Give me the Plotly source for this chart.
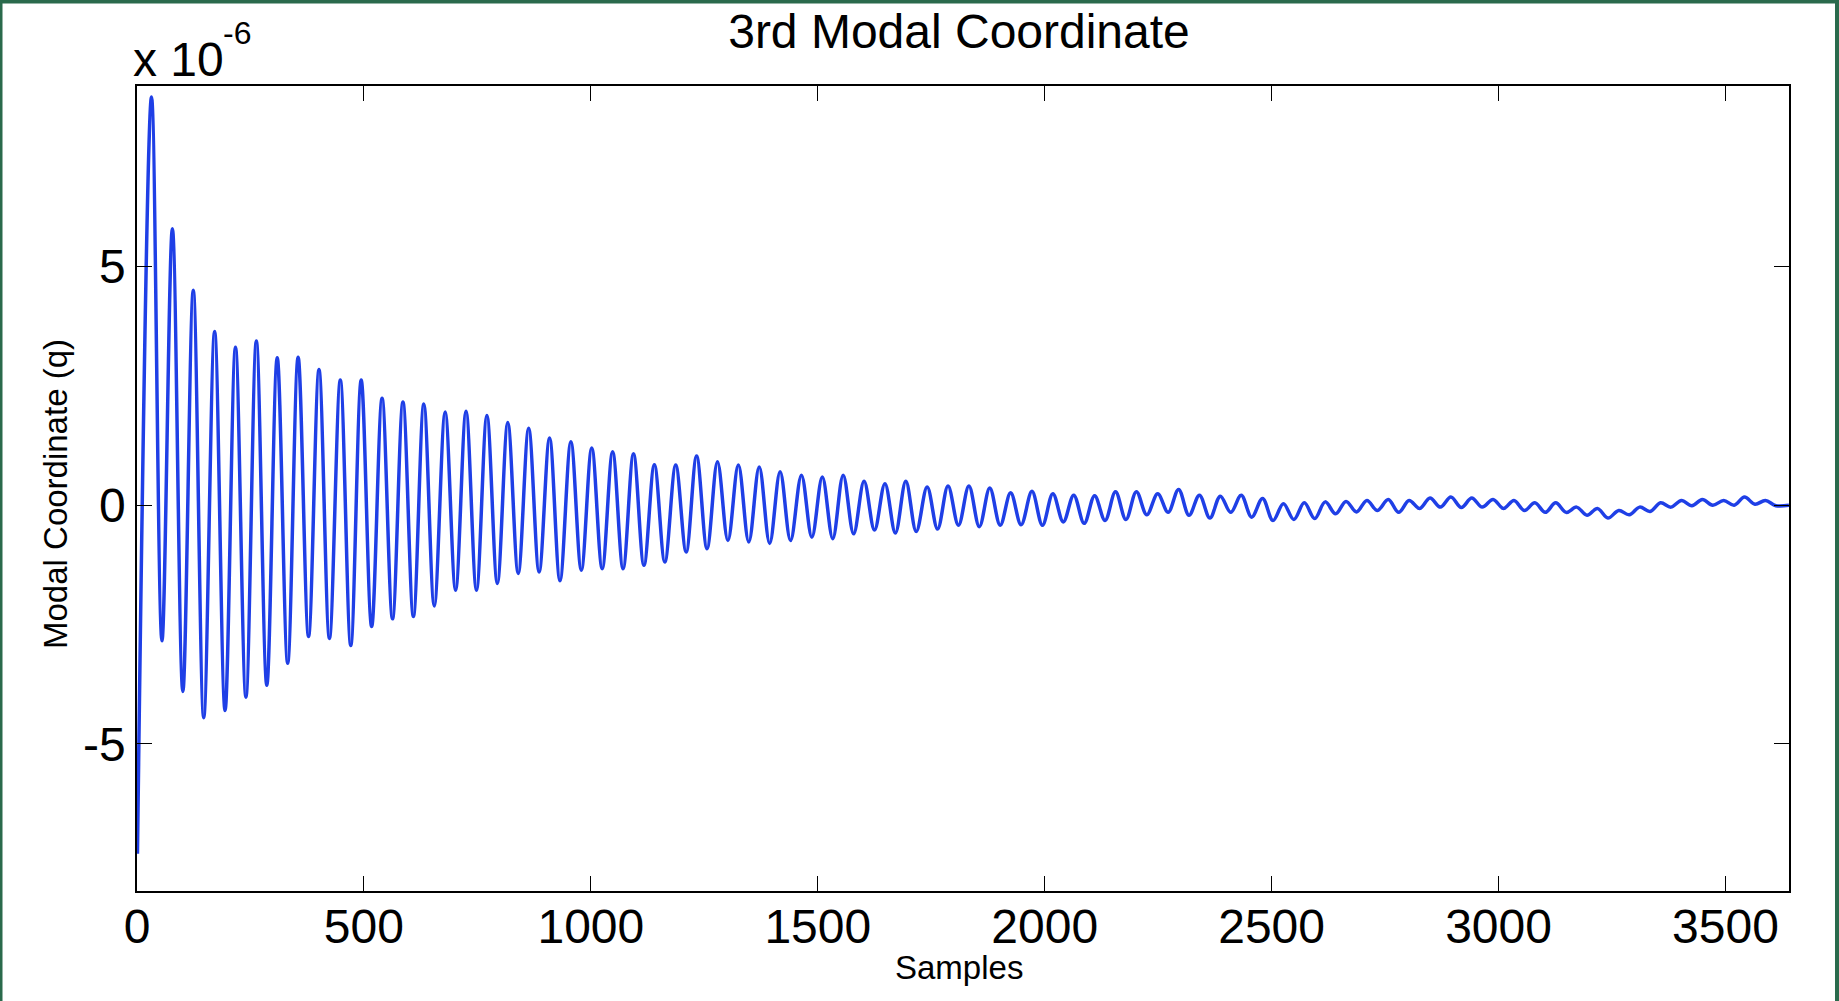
import plotly.graph_objects as go

# ---- data (values in units of 1e-6) ----
peak_samples = [32, 78, 124, 171, 217, 263, 309, 355, 401, 448, 494, 540, 586, 632, 679,
                725, 771, 817, 863, 909, 956, 1002, 1048, 1094, 1140, 1187, 1233, 1279, 1325,
                1371, 1417, 1464, 1510, 1556, 1602, 1648, 1694, 1741, 1787, 1833, 1879, 1925,
                1972, 2018, 2064, 2110, 2156, 2202, 2249, 2295, 2341, 2387, 2433, 2480, 2526,
                2572, 2618, 2664, 2710, 2757, 2803, 2849, 2895, 2941, 2988, 3034, 3080, 3126,
                3172, 3218, 3265, 3311, 3357, 3403, 3449, 3496, 3542, 3588]
peak_q = [8.55, 5.79, 4.50, 3.64, 3.31, 3.44, 3.09, 3.10, 2.84, 2.62, 2.62, 2.24, 2.16, 2.12,
          1.95, 1.97, 1.88, 1.73, 1.61, 1.41, 1.33, 1.20, 1.12, 1.08, 0.85, 0.84, 1.03, 0.91,
          0.84, 0.80, 0.70, 0.63, 0.59, 0.63, 0.50, 0.45, 0.50, 0.38, 0.40, 0.40, 0.36, 0.26,
          0.29, 0.24, 0.21, 0.20, 0.28, 0.28, 0.24, 0.33, 0.21, 0.19, 0.21, 0.14, 0.03, 0.05,
          0.07, 0.08, 0.10, 0.12, 0.10, 0.15, 0.17, 0.15, 0.12, 0.10, 0.05, 0.05, -0.04, -0.07,
          -0.11, -0.04, 0.05, 0.10, 0.12, 0.10, 0.17, 0.10]

trough_samples = [55, 101, 147, 194, 240, 286, 332, 378, 424, 471, 517, 563, 609, 655, 702,
                  748, 794, 840, 886, 932, 979, 1025, 1071, 1117, 1163, 1210, 1256, 1302, 1348,
                  1394, 1440, 1487, 1533, 1579, 1625, 1671, 1717, 1764, 1810, 1856, 1902, 1948,
                  1995, 2041, 2087, 2133, 2179, 2225, 2272, 2318, 2364, 2410, 2456, 2503, 2549,
                  2595, 2641, 2687, 2733, 2780, 2826, 2872, 2918, 2964, 3011, 3057, 3103, 3149,
                  3195, 3241, 3288, 3334, 3380, 3426, 3472, 3519, 3565, 3611]
trough_q = [-2.84, -3.90, -4.45, -4.30, -4.02, -3.77, -3.31, -2.75, -2.79, -2.94, -2.54, -2.38,
            -2.33, -2.11, -1.78, -1.78, -1.64, -1.43, -1.40, -1.58, -1.36, -1.33, -1.33, -1.26,
            -1.19, -0.98, -0.91, -0.74, -0.77, -0.80, -0.74, -0.67, -0.70, -0.60, -0.52, -0.58,
            -0.55, -0.50, -0.42, -0.45, -0.42, -0.41, -0.42, -0.35, -0.38, -0.32, -0.30, -0.20,
            -0.15, -0.21, -0.27, -0.15, -0.25, -0.32, -0.30, -0.28, -0.18, -0.14, -0.11, -0.15,
            -0.07, -0.04, -0.05, -0.04, -0.07, -0.11, -0.15, -0.15, -0.21, -0.27, -0.20, -0.13,
            -0.04, -0.01, 0.00, 0.00, 0.02, -0.01]

start_sample, start_q = 1, -7.30
end_sample, end_q = 3640, 0.00

x_ticks = [0, 500, 1000, 1500, 2000, 2500, 3000, 3500]
y_ticks = [-5, 0, 5]

# ---- build series ----
pts = sorted(zip(peak_samples + trough_samples + [start_sample, end_sample],
                 peak_q + trough_q + [start_q, end_q]))
xs = [p[0] for p in pts]
ys = [p[1] for p in pts]

FONT = "Liberation Sans, Arial, Helvetica, sans-serif"

fig = go.Figure()
fig.add_trace(go.Scatter(x=xs, y=ys, mode="lines",
                         line=dict(color="#1f3fe6", width=3.5, shape="spline", smoothing=1.0),
                         showlegend=False, hoverinfo="skip"))

W, H = 1839, 1001
L, R, T, B = 137, 50, 86, 110
pw, ph = W - L - R, H - T - B

def px(xp):
    return (xp - L) / pw

def py(yp):
    return (H - B - yp) / ph

axis_common = dict(showline=True, linecolor="black", linewidth=1.5, mirror="ticks",
                   ticks="inside", ticklen=15, tickwidth=1.2, tickcolor="black",
                   showgrid=False, zeroline=False,
                   tickfont=dict(family=FONT, size=48, color="black"))

fig.update_layout(
    width=W, height=H,
    margin=dict(l=L, r=R, t=T, b=B, pad=0),
    paper_bgcolor="white", plot_bgcolor="white",
    title=dict(text="3rd Modal Coordinate", xref="container", x=959 / W, xanchor="center",
               yref="container", y=1 - 31 / H, yanchor="middle",
               font=dict(family=FONT, size=48, color="black")),
    xaxis=dict(range=[0, 3640], tickvals=x_ticks, ticklabelstandoff=-7,
               ticktext=[str(v) for v in x_ticks], **axis_common),
    yaxis=dict(range=[-8.08, 8.78], tickvals=y_ticks,
               ticktext=[str(v) for v in y_ticks], **axis_common),
    annotations=[
        dict(text="x 10", xref="paper", yref="paper",
             x=px(131), y=py(59), xanchor="left", yanchor="middle",
             showarrow=False, font=dict(family=FONT, size=48, color="black")),
        dict(text="-6", xref="paper", yref="paper",
             x=px(221), y=py(33), xanchor="left", yanchor="middle",
             showarrow=False, font=dict(family=FONT, size=32, color="black")),
        dict(text="Samples", xref="paper", yref="paper",
             x=px(959), y=py(967), xanchor="center", yanchor="middle",
             showarrow=False, font=dict(family=FONT, size=33, color="black")),
        dict(text="Modal Coordinate (q)", xref="paper", yref="paper", textangle=-90,
             x=px(55), y=py(494), xanchor="center", yanchor="middle",
             showarrow=False, font=dict(family=FONT, size=33, color="black")),
    ],
    shapes=[
        dict(type="rect", xref="paper", yref="paper", x0=px(0), x1=px(W), y0=py(3.5), y1=py(0),
             fillcolor="#2a6a4c", line=dict(width=0), layer="above"),
        dict(type="rect", xref="paper", yref="paper", x0=px(0), x1=px(2.5), y0=py(H), y1=py(0),
             fillcolor="#2a6a4c", line=dict(width=0), layer="above"),
        dict(type="rect", xref="paper", yref="paper", x0=px(W - 4), x1=px(W), y0=py(H), y1=py(0),
             fillcolor="#2a6a4c", line=dict(width=0), layer="above"),
    ],
)

fig.write_html("out.html", config={"displayModeBar": False},
               post_script="document.body.style.margin='0';document.body.style.overflow='hidden';")
